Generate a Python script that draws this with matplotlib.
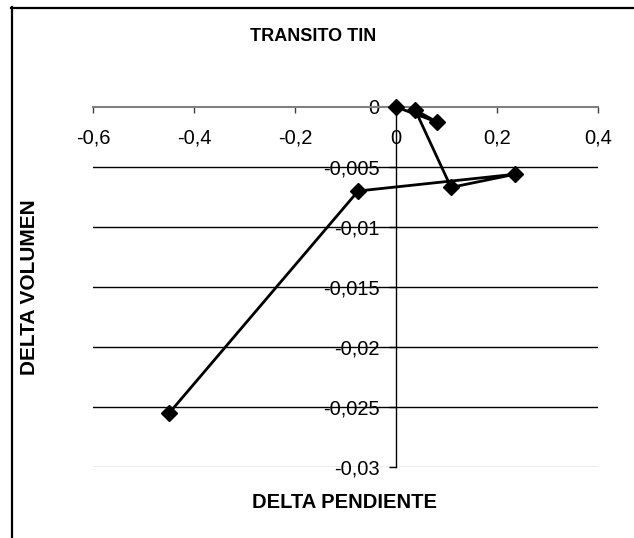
import matplotlib
matplotlib.use("Agg")
import matplotlib.pyplot as plt
from matplotlib.lines import Line2D
from matplotlib.ticker import FuncFormatter, MultipleLocator

plt.rcParams['font.family'] = ['Liberation Sans', 'DejaVu Sans']

# Data (in drawing order)
delta_pendiente = [0.0, 0.081, 0.038, 0.109, 0.236, -0.075, -0.449]
delta_volumen = [0.0, -0.00125, -0.00025, -0.0067, -0.0056, -0.0070, -0.0255]

title = "TRANSITO TIN"
xlabel = "DELTA PENDIENTE"
ylabel = "DELTA VOLUMEN"

W, H = 634, 538
fig = plt.figure(figsize=(W / 100, H / 100), dpi=100)
ax = fig.add_axes([93 / W, (H - 467) / H, (598 - 93) / W, (467 - 107) / H])

ax.plot(delta_pendiente, delta_volumen, color='black', lw=2.0,
        marker='D', markersize=8.5, markerfacecolor='black',
        markeredgecolor='black', zorder=5, clip_on=False)

ax.set_xlim(-0.6, 0.4)
ax.set_ylim(-0.03, 0.0)
ax.xaxis.set_major_locator(MultipleLocator(0.2))
ax.yaxis.set_major_locator(MultipleLocator(0.005))


def fmt(v, pos):
    r = round(v, 4)
    if abs(r) < 1e-12:
        return "0"
    return f"{r:g}".replace(".", ",")


ax.xaxis.set_major_formatter(FuncFormatter(fmt))
ax.yaxis.set_major_formatter(FuncFormatter(fmt))

for s in ['top', 'right']:
    ax.spines[s].set_visible(False)
ax.spines['left'].set_position(('data', 0))
ax.spines['bottom'].set_position(('data', 0))
ax.spines['left'].set_color('black')
ax.spines['left'].set_linewidth(1.0)
ax.spines['bottom'].set_color('#808080')
ax.spines['bottom'].set_linewidth(1.5)

ax.tick_params(axis='x', direction='out', length=4.5, width=1.0,
               color='#404040', labelsize=14.5, pad=11)
ax.tick_params(axis='y', direction='out', length=5, width=1.0,
               color='black', labelsize=14.5, pad=7)

ax.grid(axis='y', color='black', lw=1.0)
ax.set_axisbelow(True)
fig.canvas.draw()
ticks = ax.yaxis.get_major_ticks()
locs = ax.yaxis.get_majorticklocs()
for t, v in zip(ticks, locs):
    if abs(v - (-0.03)) < 1e-9:
        t.gridline.set_color('#a0a0a0')
    if abs(v) < 1e-9:
        t.gridline.set_visible(False)

fig.text(313 / W, 1 - 37 / H, title, ha='center', va='center',
         fontsize=13, fontweight='bold')
fig.text(345 / W, 1 - 502 / H, xlabel, ha='center', va='center',
         fontsize=14.5, fontweight='bold')
fig.text(30 / W, 1 - 287 / H, ylabel, ha='center', va='center',
         rotation=90, fontsize=15, fontweight='bold')

# chart border (partially visible)
fig.add_artist(Line2D([11 / W, 1.0], [1 - 7.5 / H, 1 - 7.5 / H],
                      transform=fig.transFigure, color='black', lw=1.6))
fig.add_artist(Line2D([11.5 / W, 11.5 / W], [0.0, 1 - 7 / H],
                      transform=fig.transFigure, color='black', lw=1.6))

fig.savefig("out.png", dpi=100)
